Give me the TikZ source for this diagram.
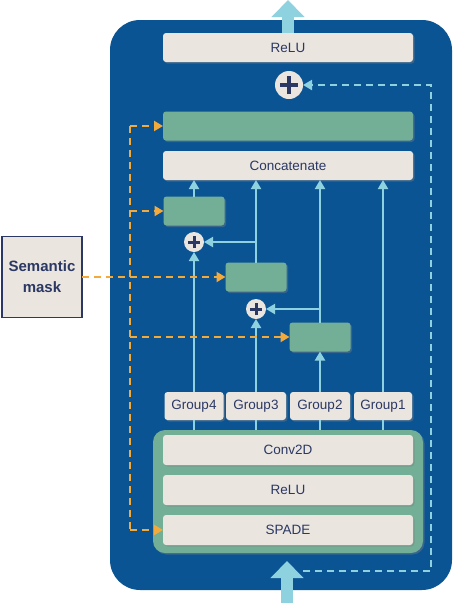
\documentclass[tikz,border=0pt]{standalone}
\usepackage{fontspec}
\setmainfont{Liberation Sans}
\usetikzlibrary{arrows.meta,shadows}
\definecolor{deepblue}{RGB}{11,84,148}
\definecolor{skyline}{RGB}{142,209,223}
\definecolor{paper}{RGB}{234,229,223}
\definecolor{sage}{RGB}{114,175,150}
\definecolor{ink}{RGB}{43,56,100}
\definecolor{amber}{RGB}{242,170,60}
\begin{document}
\begin{tikzpicture}[x=1pt, y=-1pt, font=\fontsize{13.5}{15}\selectfont,
  every node/.style={outer sep=0pt, inner sep=0pt, text=ink},
  boxshadow/.style={drop shadow={shadow xshift=1.5pt, shadow yshift=-1.5pt, opacity=.4}},
  layer/.style={fill=paper, rounded corners=3pt, minimum width=250pt, minimum height=29pt, boxshadow},
  feat/.style={fill=sage, rounded corners=3pt, minimum width=61pt, minimum height=29pt, boxshadow},
  group/.style={fill=paper, rounded corners=3pt, minimum height=28pt, boxshadow},
  plusbig/.style={circle, fill=paper, minimum size=28pt, path picture={
    \draw[ink, line width=4pt] ([xshift=-9pt]path picture bounding box.center) -- ([xshift=9pt]path picture bounding box.center)
      ([yshift=-9pt]path picture bounding box.center) -- ([yshift=9pt]path picture bounding box.center);}},
  plussmall/.style={circle, fill=paper, minimum size=20pt, path picture={
    \draw[ink, line width=3pt] ([xshift=-6pt]path picture bounding box.center) -- ([xshift=6pt]path picture bounding box.center)
      ([yshift=-6pt]path picture bounding box.center) -- ([yshift=6pt]path picture bounding box.center);}},
  flow/.style={draw=skyline, line width=2pt, -{Triangle[width=10pt,length=9pt]}},
  link/.style={draw=skyline, line width=2pt},
  bigarrow/.style={draw=skyline, line width=12pt, -{Triangle[width=32pt,length=17pt]}},
  skipline/.style={draw=skyline, line width=2pt, dash pattern=on 7pt off 5pt, -{Triangle[width=10pt,length=9pt]}},
  maskline/.style={draw=amber, line width=2.2pt, dash pattern=on 7pt off 5pt},
  maskarrow/.style={maskline, -{Triangle[width=10pt,length=9pt]}}]
  \useasboundingbox (0,0) rectangle (453,603);
  \fill[deepblue, rounded corners=30pt] (110,20) rectangle (452,590);

  \node[layer] (reluout) at (288,47.5) {ReLU};
  \node[plusbig] (plustop) at (289,85) {};
  \node[feat, minimum width=250pt] (bar) at (288,126) {};
  \node[layer] (concat) at (288,165.5) {Concatenate};
  \node[feat] (g1) at (194,211) {};
  \node[plussmall] (p1) at (194,242) {};
  \node[feat] (g2) at (256,277) {};
  \node[plussmall] (p2) at (256,309) {};
  \node[feat] (g3) at (320,337) {};

  \node[group, minimum width=59pt] (grp4) at (194,406) {Group4};
  \node[group, minimum width=60pt] (grp3) at (256,406) {Group3};
  \node[group, minimum width=60pt] (grp2) at (320,406) {Group2};
  \node[group, minimum width=58pt] (grp1) at (383,406) {Group1};

  \node[fill=sage, rounded corners=12pt, minimum width=270pt, minimum height=123pt, boxshadow] (block) at (288,491.5) {};
  \node[layer, minimum height=30pt] (conv) at (288,450) {Conv2D};
  \node[layer, minimum height=30pt] (relu) at (288,490) {ReLU};
  \node[layer, minimum height=30pt] (spade) at (288,530) {SPADE};

  \node[fill=paper, draw=ink, line width=1.5pt, minimum width=80pt, minimum height=81pt, align=center,
    font=\fontsize{15}{21}\selectfont\bfseries] (mask) at (42,277) {Semantic\\mask};

  \coordinate (outtip) at (288,0);
  \coordinate (intail) at (287,603);
  \coordinate (intip) at (287,561);
  \coordinate (skipstart) at (303,571);
  \coordinate (skipturn) at (431,85);
  \coordinate (mtop) at (130,126);
  \coordinate (mbot) at (130,530);

  \draw[bigarrow] (reluout.north) -- (outtip);
  \draw[bigarrow] (intail) -- (intip);
  \draw[skipline] (skipstart) -| (skipturn) -- (plustop.east);

  \foreach \g in {grp4,grp3,grp2,grp1}
    \draw[link] (\g.south) -- (\g.south |- block.north);
  \draw[flow] (grp4.north) -- (p1.south);
  \draw[flow] (g1.north) -- (g1.north |- concat.south);
  \draw[flow] (grp3.north) -- (p2.south);
  \draw[flow] (g2.north) -- (g2.north |- concat.south);
  \draw[flow] (g2.north |- p1) -- (p1.east);
  \draw[flow] (grp2.north) -- (g3.south);
  \draw[flow] (g3.north) -- (g3.north |- concat.south);
  \draw[flow] (g3.north |- p2) -- (p2.east);
  \draw[flow] (grp1.north) -- (grp1.north |- concat.south);

  \draw[maskline] (mtop) -- (mbot);
  \draw[maskarrow] (mtop) -- (bar.west);
  \draw[maskarrow] (g1.west -| mtop) -- (g1.west);
  \draw[maskarrow] (mask.east) -- (g2.west);
  \draw[maskarrow] (g3.west -| mtop) -- (g3.west);
  \draw[maskarrow] (mbot) -- (spade.west);
\end{tikzpicture}
\end{document}
